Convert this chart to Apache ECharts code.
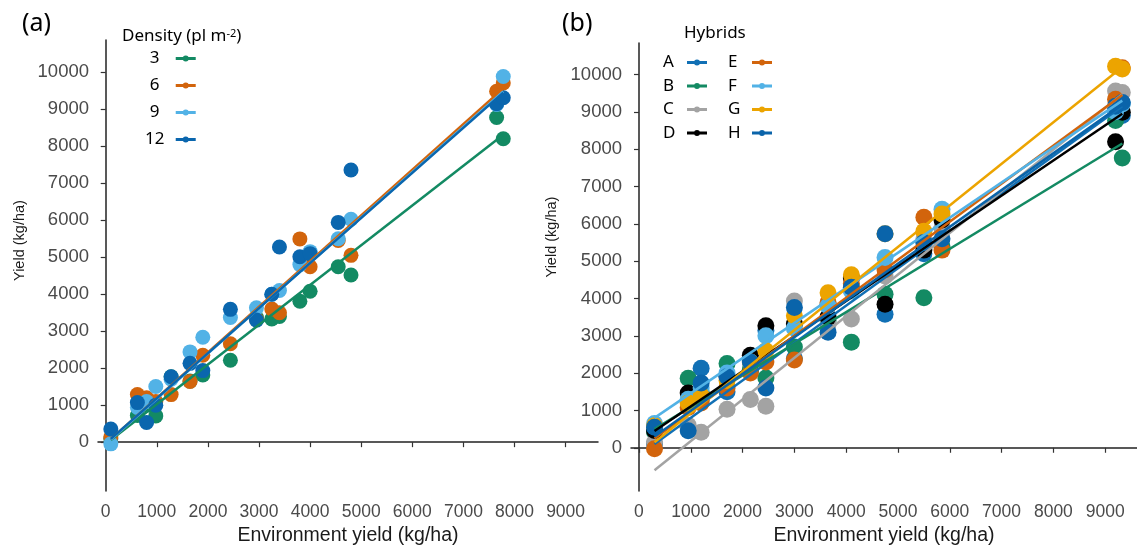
<!DOCTYPE html>
<html>
<head>
<meta charset="utf-8">
<title>Yield vs environment yield</title>
<script src="https://cdn.jsdelivr.net/npm/echarts@6/dist/echarts.min.js"></script>
<style>
  html, body { margin: 0; padding: 0; background: #fff; }
  #chart { width: 1137px; height: 551px; }
</style>
</head>
<body>
<div id="chart"></div>
<script>
// ---- panel (a): yield per plant density ----
const envA = [100, 620, 800, 980, 1280, 1650, 1900, 2440, 2950, 3250, 3400, 3800, 4000, 4550, 4800, 7650, 7780];
const densities = ['3', '6', '9', '12'];
const yieldD3 = [90, 720, 1000, 710, 1770, 1650, 1815, 2215, 3370, 3330, 3400, 3810, 4080, 4740, 4520, 8775, 8200];
const yieldD6 = [140, 1285, 1200, 1100, 1285, 1640, 2350, 2660, 3320, 3600, 3500, 5495, 4740, 5450, 5050, 9485, 9710];
const yieldD9 = [-45, 940, 1100, 1505, 1700, 2440, 2835, 3370, 3630, 4000, 4100, 4800, 5150, 5500, 6025, 9130, 9885];
const yieldD12 = [355, 1070, 530, 1000, 1770, 2130, 1935, 3590, 3300, 4000, 5275, 5010, 5095, 5940, 7355, 9150, 9310];
// fitted lines (a), read at the two ends of the environment range
const fitA_x = [100, 7780];
const fitA_y0 = [60, 80, 70, 90];
const fitA_y1 = [8310, 9560, 9480, 9450];

// ---- panel (b): yield per hybrid ----
const envB = [300, 950, 1200, 1700, 2150, 2450, 3000, 3650, 4100, 4750, 5500, 5850, 9200, 9330];
const hybrids = ['A', 'B', 'C', 'D', 'E', 'F', 'G', 'H'];
const yieldA = [100, 545, 2130, 1500, 2050, 3140, 2390, 3845, 4250, 3580, 5200, 5900, 9050, 8900];
const yieldB = [420, 1865, 1500, 2260, 2100, 1870, 2700, 3400, 2830, 4110, 4020, 5395, 8770, 7760];
const yieldC = [150, 600, 415, 1030, 1290, 1115, 3930, 3300, 3450, 4600, 5600, 5900, 9560, 9520];
const yieldDh = [460, 1470, 1300, 1910, 2480, 3270, 3317, 3500, 4545, 3845, 5295, 6100, 8200, 8990];
const yieldE = [-26, 1080, 1200, 1600, 2000, 2300, 2350, 3890, 4400, 4770, 6175, 5295, 9340, 10180];
const yieldF = [650, 1300, 1600, 2000, 2300, 3000, 3200, 3800, 4200, 5100, 5500, 6390, 9000, 9210];
const yieldG = [590, 1200, 1400, 1800, 2300, 2600, 3535, 4150, 4635, 5735, 5800, 6260, 10220, 10150];
const yieldH = [550, 455, 1735, 1900, 2300, 1600, 3760, 3095, 4300, 5735, 5500, 5600, 9150, 9250];
// fitted lines (b)
const fitB_x = [300, 9330];
const fitB_y0 = [100, 500, -600, 450, 250, 800, 150, 300];
const fitB_y1 = [9150, 8150, 9470, 8950, 9450, 9300, 10200, 9200];

// tick labels
const xTicks = [0, 1000, 2000, 3000, 4000, 5000, 6000, 7000, 8000, 9000];
const yTicks = [0, 1000, 2000, 3000, 4000, 5000, 6000, 7000, 8000, 9000, 10000];

const colorsA = ['#138a63', '#d2640c', '#52b2e6', '#0a66ae'];
const colorsB = ['#1170b5', '#138a63', '#a3a3a3', '#000000', '#d2640c', '#52b2e6', '#eca400', '#0a64aa'];
const yieldsA = [yieldD3, yieldD6, yieldD9, yieldD12];
const yieldsB = [yieldA, yieldB, yieldC, yieldDh, yieldE, yieldF, yieldG, yieldH];

// legend key: line with a dot
const keyIcon = 'path://M0,1.5H20V4.5H0Z M10,0A3,3 0 1,1 10,6A3,3 0 1,1 10,0Z';

const chart = echarts.init(document.getElementById('chart'));

function scatterOf(name, color, xs, ys, idx, size) {
    return {
        type: 'scatter', name: name, xAxisIndex: idx, yAxisIndex: idx,
        symbolSize: size, itemStyle: { color: color, opacity: 1 },
        data: xs.map((x, i) => [x, ys[i]]), z: 2
    };
}
function fitOf(name, color, xs, y0, y1, idx) {
    return {
        type: 'line', name: name, xAxisIndex: idx, yAxisIndex: idx,
        symbol: 'none', lineStyle: { color: color, width: 2.5 }, itemStyle: { color: color },
        data: [[xs[0], y0], [xs[1], y1]], z: 3
    };
}

const series = [];
densities.forEach((d, i) => series.push(scatterOf(d, colorsA[i], envA, yieldsA[i], 0, 15)));
hybrids.forEach((h, i) => series.push(scatterOf(h, colorsB[i], envB, yieldsB[i], 1, 17)));
densities.forEach((d, i) => series.push(fitOf(d, colorsA[i], fitA_x, fitA_y0[i], fitA_y1[i], 0)));
hybrids.forEach((h, i) => series.push(fitOf(h, colorsB[i], fitB_x, fitB_y0[i], fitB_y1[i], 1)));

const plain = v => String(v);
const tickFont = { fontFamily: 'Liberation Sans', color: '#4a4a4a', formatter: plain };
function xAxisOf(idx, min, max) {
    return {
        type: 'value', gridIndex: idx, min: min, max: max,
        name: 'Environment yield (kg/ha)', nameLocation: 'middle', nameGap: 31,
        nameTextStyle: { fontFamily: 'Liberation Sans', fontSize: 19.5, color: '#1a1a1a' },
        axisLine: { show: true, lineStyle: { color: '#222', width: 1.5 } },
        axisTick: { show: true, length: 5, customValues: xTicks, lineStyle: { color: '#333', width: 1.2 } },
        axisLabel: Object.assign({ customValues: xTicks, fontSize: 17.5, margin: 12 }, tickFont),
        splitLine: { show: false }
    };
}
function yAxisOf(idx, min, max, gap, shift) {
    return {
        type: 'value', gridIndex: idx, min: min, max: max,
        name: 'Yield (kg/ha)', nameLocation: 'middle', nameRotate: 90, nameGap: gap,
        nameTextStyle: { fontFamily: 'Liberation Sans', fontSize: 14.5, color: '#1a1a1a', padding: [0, 0, 0, shift] },
        axisLine: { show: true, lineStyle: { color: '#222', width: 1.5 } },
        axisTick: { show: true, length: 5, customValues: yTicks, lineStyle: { color: '#333', width: 1.2 } },
        axisLabel: Object.assign({ customValues: yTicks, fontSize: 18.5, margin: 9 }, tickFont),
        splitLine: { show: false }
    };
}

const legendText = {
    fontFamily: 'Noto Sans', fontSize: 17, fontWeight: 'normal', color: '#000'
};

const option = {
    animation: false,
    backgroundColor: '#fff',
    title: [
        { text: '(a)', left: 22, top: 11, padding: 0, textStyle: { fontFamily: 'Noto Sans', fontSize: 25, fontWeight: 'normal', color: '#000' } },
        { text: '(b)', left: 562, top: 11, padding: 0, textStyle: { fontFamily: 'Noto Sans', fontSize: 25, fontWeight: 'normal', color: '#000' } },
        {
            text: '{a|Density (pl m}{s|-2}{a|)}', left: 122, top: 28, padding: 0,
            textStyle: {
                fontWeight: 'normal',
                rich: {
                    a: { fontFamily: 'Noto Sans', fontSize: 17, fontWeight: 'normal', color: '#000' },
                    s: { fontFamily: 'Noto Sans', fontSize: 11, fontWeight: 'normal', color: '#000', verticalAlign: 'top' }
                }
            }
        },
        { text: 'Hybrids', left: 684, top: 25, padding: 0, textStyle: { fontFamily: 'Noto Sans', fontSize: 17, fontWeight: 'normal', color: '#000' } }
    ],
    legend: [
        {
            data: densities.map(d => ({ name: d, icon: keyIcon })),
            orient: 'vertical', align: 'right', left: 145, top: 50, padding: 0,
            itemWidth: 20, itemHeight: 6, itemGap: 10, selectedMode: false,
            formatter: '{t|{name}}',
            textStyle: Object.assign({ rich: { t: Object.assign({ width: 32, align: 'center' }, legendText) } }, legendText)
        },
        {
            data: hybrids.slice(0, 4).map(h => ({ name: h, icon: keyIcon })),
            orient: 'vertical', align: 'right', left: 663, top: 54, padding: 0,
            itemWidth: 22, itemHeight: 6, itemGap: 6.5, selectedMode: false,
            formatter: '{t|{name}}',
            textStyle: Object.assign({ rich: { t: Object.assign({ width: 18, align: 'left' }, legendText) } }, legendText)
        },
        {
            data: hybrids.slice(4).map(h => ({ name: h, icon: keyIcon })),
            orient: 'vertical', align: 'right', left: 728, top: 54, padding: 0,
            itemWidth: 22, itemHeight: 6, itemGap: 6.5, selectedMode: false,
            formatter: '{t|{name}}',
            textStyle: Object.assign({ rich: { t: Object.assign({ width: 18, align: 'left' }, legendText) } }, legendText)
        }
    ],
    grid: [
        { left: 98, top: 40, width: 500, bottom: 53, containLabel: false },
        { left: 631, top: 43, right: 0, bottom: 53, containLabel: false }
    ],
    xAxis: [xAxisOf(0, -151, 9634), xAxisOf(1, -154, 9614)],
    yAxis: [yAxisOf(0, -1323, 10871, 71, 50), yAxisOf(1, -1161, 10844, 72, 60)],
    series: series
};

chart.setOption(option);
</script>
</body>
</html>
